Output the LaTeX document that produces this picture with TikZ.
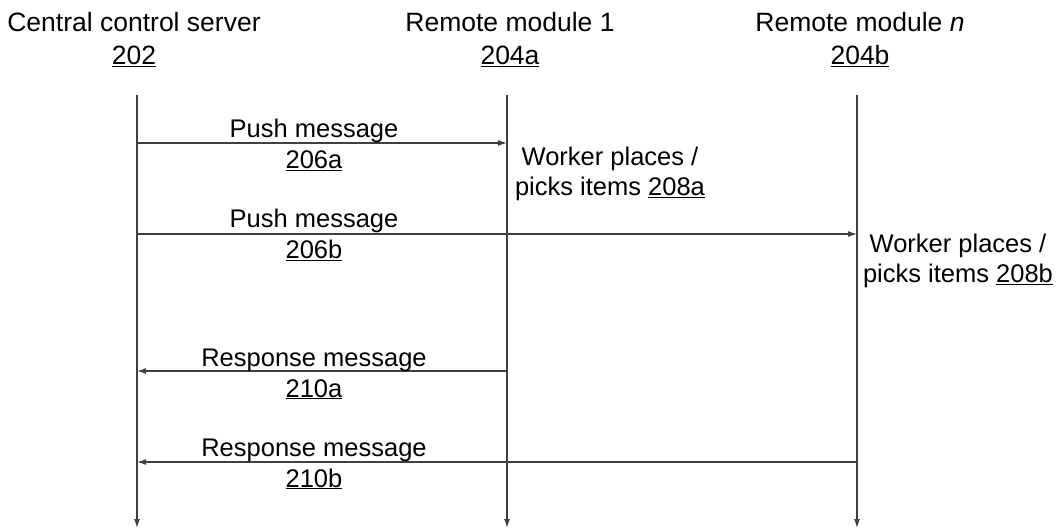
\documentclass[tikz,border=0pt]{standalone}
\usepackage{fontspec}
\setmainfont{Liberation Sans}
\usetikzlibrary{arrows.meta, positioning}

\begin{document}
\begin{tikzpicture}[
    x=1pt, y=-1pt,
    head/.style={align=center, inner sep=0pt, anchor=base, font=\fontsize{26.5}{33}\selectfont},
    msgtext/.style={align=center, inner sep=0pt, anchor=base, font=\fontsize{25.5}{31}\selectfont},
    worktext/.style={align=center, inner sep=0pt, anchor=base, font=\fontsize{25.5}{30.5}\selectfont},
    life/.style={-{Latex[length=9pt, width=6pt]}, line width=1.2pt, black!75},
    arrow/.style={-{Latex[length=9pt, width=6pt]}, line width=1.2pt, black!75}
]
\useasboundingbox (0,0) rectangle (1060,529);

% headers (anchored on the number line)
\node[head] (server) at (134,65) {Central control server\\\underline{202}};
\node[head] (mod1) at (510,65) {Remote module 1\\\underline{204a}};
\node[head] (modn) at (860,65) {Remote module \textit{n}\\\underline{204b}};

% lifelines
\coordinate (srv top) at (137,95);
\coordinate (srv bot) at (137,528);
\coordinate (m1 top) at (507,95);
\coordinate (m1 bot) at (507,528);
\coordinate (mn top) at (857,95);
\coordinate (mn bot) at (857,528);
\draw[life] (srv top) -- (srv bot);
\draw[life] (m1 top) -- (m1 bot);
\draw[life] (mn top) -- (mn bot);

% message ends
\coordinate (push a from) at (137,143);
\coordinate (push a to) at (507,143);
\coordinate (push b from) at (137,234);
\coordinate (push b to) at (857,234);
\coordinate (resp a from) at (507,371);
\coordinate (resp a to) at (137,371);
\coordinate (resp b from) at (857,462);
\coordinate (resp b to) at (137,462);

\draw[arrow] (push a from) -- (push a to);
\draw[arrow] (push b from) -- (push b to);
\draw[arrow] (resp a from) -- (resp a to);
\draw[arrow] (resp b from) -- (resp b to);

% message labels
\node[msgtext] (pusha) at (314,169) {Push message\\\underline{206a}};
\node[msgtext] (pushb) at (314,259) {Push message\\\underline{206b}};
\node[msgtext] (respa) at (314,397) {Response message\\\underline{210a}};
\node[msgtext] (respb) at (314,487) {Response message\\\underline{210b}};

% worker actions
\node[worktext] (worka) at (610,196) {Worker places /\\picks items \underline{208a}};
\node[worktext] (workb) at (958,283) {Worker places /\\picks items \underline{208b}};
\end{tikzpicture}
\end{document}
